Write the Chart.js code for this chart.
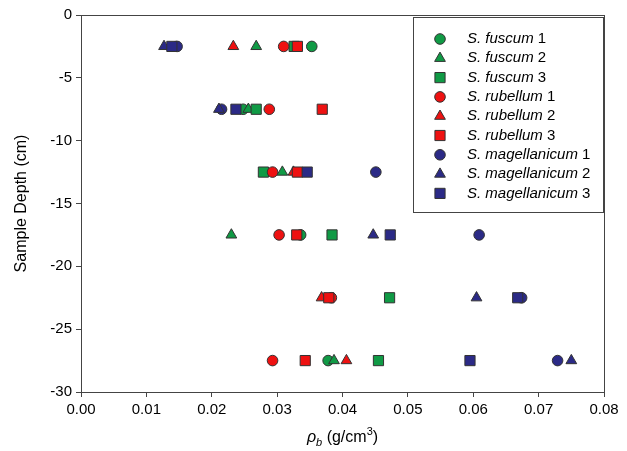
<!DOCTYPE html>
<html>
<head>
<meta charset="utf-8">
<script src="https://cdn.jsdelivr.net/npm/chart.js@4.4.0/dist/chart.umd.min.js"></script>
<style>
  html, body { margin: 0; padding: 0; background: #fff; }
</style>
</head>
<body>
<canvas id="chart" width="627" height="451"></canvas>
<script>
// sample depths (cm)
const depths = [-2.5, -7.5, -12.5, -17.5, -22.5, -27.5];

// bulk density per depth, null where the marker is hidden / missing
const fuscum1 = [0.0353, 0.0248, null, 0.0336, null, 0.0378];
const fuscum2 = [0.0268, 0.0256, 0.0308, 0.0230, null, 0.0387];
const fuscum3 = [0.0326, 0.0268, 0.0279, 0.0384, 0.0472, 0.0455];
const rubellum1 = [0.0310, 0.0288, 0.0293, 0.0303, 0.0383, 0.0293];
const rubellum2 = [0.0233, null, 0.0325, null, 0.0368, 0.0406];
const rubellum3 = [0.0331, 0.0369, 0.0331, 0.0330, 0.0379, 0.0343];
const magellanicum1 = [0.0147, 0.0215, 0.0451, 0.0609, 0.0674, 0.0729];
const magellanicum2 = [0.0127, 0.0211, null, 0.0447, 0.0605, 0.0750];
const magellanicum3 = [0.0139, 0.0237, 0.0346, 0.0473, 0.0668, 0.0595];

const xTicks = [0, 0.01, 0.02, 0.03, 0.04, 0.05, 0.06, 0.07, 0.08];
const yTicks = [0, -5, -10, -15, -20, -25, -30];

const GREEN = "#109a45";
const RED = "#ee1111";
const NAVY = "#2b2a86";

const series = [
    { species: "S. fuscum", rep: "1", values: fuscum1, color: GREEN, style: "circle" },
    { species: "S. fuscum", rep: "2", values: fuscum2, color: GREEN, style: "triangle" },
    { species: "S. fuscum", rep: "3", values: fuscum3, color: GREEN, style: "rect" },
    { species: "S. rubellum", rep: "1", values: rubellum1, color: RED, style: "circle" },
    { species: "S. rubellum", rep: "2", values: rubellum2, color: RED, style: "triangle" },
    { species: "S. rubellum", rep: "3", values: rubellum3, color: RED, style: "rect" },
    { species: "S. magellanicum", rep: "1", values: magellanicum1, color: NAVY, style: "circle" },
    { species: "S. magellanicum", rep: "2", values: magellanicum2, color: NAVY, style: "triangle" },
    { species: "S. magellanicum", rep: "3", values: magellanicum3, color: NAVY, style: "rect" }
];

const radiusFor = { circle: 5.3, triangle: 6.2, rect: 7.2 };
const FONT = "'Liberation Sans', Arial, sans-serif";

const datasets = series.map((s, i) => ({
    label: s.species + " " + s.rep,
    data: s.values
        .map((v, j) => v === null ? null : { x: v, y: depths[j] })
        .filter(p => p !== null),
    pointStyle: s.style,
    pointRadius: radiusFor[s.style],
    pointBackgroundColor: s.color,
    pointBorderColor: "#333",
    pointBorderWidth: 1,
    showLine: false,
    order: series.length - i  // later series on top
}));

// box around the plot + axis titles + legend
const decorations = {
    id: "decorations",
    afterDraw(chart) {
        const ctx = chart.ctx;
        const a = chart.chartArea;
        ctx.save();
        ctx.strokeStyle = "#444";
        ctx.lineWidth = 1;
        ctx.strokeRect(a.left + 0.5, a.top + 0.5, a.right - a.left, a.bottom - a.top);

        // y title
        ctx.fillStyle = "#000";
        ctx.font = "16px " + FONT;
        ctx.textAlign = "center";
        ctx.textBaseline = "middle";
        ctx.save();
        ctx.translate(22, (a.top + a.bottom) / 2);
        ctx.rotate(-Math.PI / 2);
        ctx.fillText("Sample Depth (cm)", 0, 0);
        ctx.restore();

        // x title: rho_b (g/cm^3)
        const parts = [
            { t: "\u03C1", f: "italic 16px " + FONT, dy: 0 },
            { t: "b", f: "italic 11px " + FONT, dy: 4 },
            { t: " (g/cm", f: "16px " + FONT, dy: 0 },
            { t: "3", f: "11px " + FONT, dy: -7 },
            { t: ")", f: "16px " + FONT, dy: 0 }
        ];
        ctx.textAlign = "left";
        ctx.textBaseline = "alphabetic";
        let w = 0;
        parts.forEach(p => { ctx.font = p.f; p.w = ctx.measureText(p.t).width; w += p.w; });
        let x = (a.left + a.right) / 2 - w / 2;
        parts.forEach(p => { ctx.font = p.f; ctx.fillText(p.t, x, 442 + p.dy); x += p.w; });

        // legend
        const lx = 413, ly = 17, lw = 190, lh = 195;
        ctx.fillStyle = "#fff";
        ctx.fillRect(lx, ly, lw, lh);
        ctx.strokeStyle = "#444";
        ctx.strokeRect(lx + 0.5, ly + 0.5, lw, lh);
        series.forEach((s, i) => {
            const y = 39 + i * 19.3;
            ctx.fillStyle = s.color;
            ctx.strokeStyle = "#333";
            ctx.lineWidth = 1;
            Chart.helpers.drawPoint(ctx, {
                pointStyle: s.style,
                radius: radiusFor[s.style],
                rotation: 0,
                borderWidth: 1
            }, 440, y);
            ctx.fillStyle = "#000";
            ctx.textBaseline = "middle";
            ctx.font = "italic 15px " + FONT;
            ctx.fillText(s.species, 467, y);
            const sw = ctx.measureText(s.species + " ").width;
            ctx.font = "15px " + FONT;
            ctx.fillText(s.rep, 467 + sw, y);
        });
        ctx.restore();
    }
};

new Chart(document.getElementById("chart"), {
    type: "scatter",
    data: { datasets: datasets },
    options: {
        responsive: false,
        animation: false,
        layout: { padding: { left: 0, top: 15, right: 23, bottom: 0 } },
        plugins: {
            legend: { display: false },
            tooltip: { enabled: false }
        },
        scales: {
            x: {
                type: "linear",
                min: 0,
                max: 0.08,
                afterBuildTicks: s => { s.ticks = xTicks.map(v => ({ value: v })); },
                afterFit: s => { s.height = 59; },
                ticks: {
                    autoSkip: false,
                    maxRotation: 0,
                    padding: 4,
                    color: "#000",
                    font: { family: FONT, size: 15 },
                    callback: v => v.toFixed(2)
                },
                grid: { drawOnChartArea: false, drawTicks: true, tickLength: 5, color: "#444" },
                border: { color: "#444", width: 1 }
            },
            y: {
                type: "linear",
                min: -30,
                max: 0,
                afterBuildTicks: s => { s.ticks = yTicks.map(v => ({ value: v })); },
                afterFit: s => { s.width = 81; },
                ticks: {
                    autoSkip: false,
                    padding: 4,
                    color: "#000",
                    font: { family: FONT, size: 15 }
                },
                grid: { drawOnChartArea: false, drawTicks: true, tickLength: 5, color: "#444" },
                border: { color: "#444", width: 1 }
            }
        }
    },
    plugins: [decorations]
});
</script>
</body>
</html>
